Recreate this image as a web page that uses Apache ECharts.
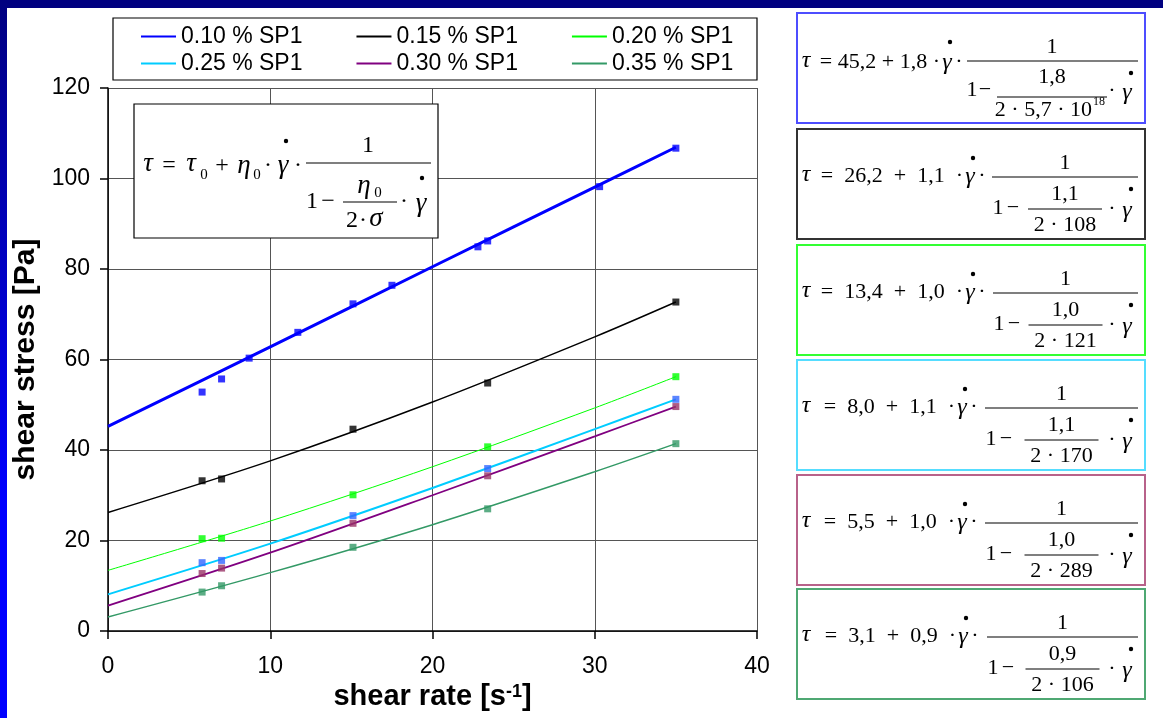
<!DOCTYPE html>
<html>
<head>
<meta charset="utf-8">
<title>shear stress vs shear rate</title>
<script src="https://cdn.jsdelivr.net/npm/echarts@6/dist/echarts.min.js"></script>
<style>
html, body { margin: 0; padding: 0; background: #fff; }
#chart { width: 1163px; height: 718px; }
</style>
</head>
<body>
<div id="chart"></div>
<script>
// legend names, one per concentration
var seriesNames = ['0.10 % SP1', '0.15 % SP1', '0.20 % SP1', '0.25 % SP1', '0.30 % SP1', '0.35 % SP1'];

// measured points
var rate010 = [5.8, 7.0, 8.7, 11.7, 15.1, 17.5, 22.8, 23.4, 30.3, 35.0];
var stress010 = [52.8, 55.7, 60.3, 66.0, 72.3, 76.4, 84.9, 86.2, 98.2, 106.7];
var rateOther = [5.8, 7.0, 15.1, 23.4, 35.0];
var stress015 = [33.2, 33.6, 44.6, 54.8, 72.7];
var stress020 = [20.4, 20.5, 30.1, 40.7, 56.2];
var stress025 = [15.1, 15.6, 25.5, 35.9, 51.2];
var stress030 = [12.7, 13.9, 23.8, 34.3, 49.6];
var stress035 = [8.6, 10.0, 18.5, 27.0, 41.4];

// fitted curves
var fitRate = [0, 10, 20, 30, 35];
var fit010 = [45.2, 62.8, 80.5, 98.1, 106.9];
var fit015 = [26.2, 37.6, 50.6, 65.0, 72.7];
var fit020 = [13.4, 24.3, 36.3, 49.3, 56.2];
var fit025 = [8.1, 19.3, 31.6, 44.6, 51.2];
var fit030 = [5.6, 17.3, 30.0, 43.0, 49.6];
var fit035 = [3.1, 12.9, 23.5, 35.2, 41.4];

// fit parameters printed in the boxes
var tau0Labels = ['45,2', '26,2', '13,4', '8,0', '5,5', '3,1'];
var eta0Labels = ['1,8', '1,1', '1,0', '1,1', '1,0', '0,9'];
var sigmaLabels = ['5,7 · 10', '108', '121', '170', '289', '106'];

var lineColors = ['#0000ff', '#000000', '#00ff00', '#00ccff', '#800080', '#339966'];
var pointColors = ['#0000ff', '#000000', '#00ff00', '#3366ff', '#993366', '#339966'];
var lineWidths = [3, 1.5, 1, 2, 1.8, 1.5];
var boxColors = ['#4d4dff', '#333333', '#33ff33', '#55ddff', '#b8628a', '#4fa873'];

var pointRates = [rate010, rateOther, rateOther, rateOther, rateOther, rateOther];
var pointStress = [stress010, stress015, stress020, stress025, stress030, stress035];
var fits = [fit010, fit015, fit020, fit025, fit030, fit035];

var SANS = '"Liberation Sans", Arial, sans-serif';
var SERIF = '"Liberation Serif", "Times New Roman", serif';

function zip(xs, ys) {
    return xs.map(function (x, i) { return [x, ys[i]]; });
}

// formula pieces
function txt(x, y, s, size, italic, align) {
    var a = align || 'center';
    return {
        type: 'text', z: 110, x: x, y: y, silent: true,
        style: {
            text: s, font: (italic ? 'italic ' : '') + size + 'px ' + SERIF, fill: '#000',
            align: a, verticalAlign: 'middle', textAlign: a, textVerticalAlign: 'middle'
        }
    };
}
function bar(x1, x2, y) {
    return { type: 'line', z: 110, silent: true, shape: { x1: x1, y1: y, x2: x2, y2: y }, style: { stroke: '#000', lineWidth: 1.2 } };
}
function dot(x, y) {
    return { type: 'circle', z: 110, silent: true, shape: { cx: x, cy: y, r: 2.2 }, style: { fill: '#000' } };
}

var g = [];
// slide frame
g.push({ type: 'rect', z: 100, silent: true, shape: { x: 0, y: 0, width: 1163, height: 8 }, style: { fill: '#000080' } });
g.push({
    type: 'rect', z: 100, silent: true, shape: { x: 0, y: 0, width: 7, height: 718 },
    style: { fill: { type: 'linear', x: 0, y: 0, x2: 0, y2: 1, colorStops: [{ offset: 0, color: '#000080' }, { offset: 0.7, color: '#0000ff' }, { offset: 1, color: '#0000ff' }] } }
});
// legend frame
g.push({ type: 'rect', z: 100, silent: true, shape: { x: 113, y: 18, width: 644, height: 62 }, style: { fill: 'transparent', stroke: '#000', lineWidth: 1.2 } });

// general model formula inside the plot
g.push({ type: 'rect', z: 100, silent: true, shape: { x: 134, y: 104, width: 304, height: 134 }, style: { fill: '#fff', stroke: '#000', lineWidth: 1.2 } });
g.push(txt(148, 164, 'τ', 27, true));
g.push(txt(169, 166, '=', 24));
g.push(txt(191, 164, 'τ', 27, true));
g.push(txt(204, 175, '0', 15));
g.push(txt(222, 166, '+', 24));
g.push(txt(244, 166, 'η', 27, true));
g.push(txt(257, 175, '0', 15));
g.push(txt(268, 166, '·', 24));
g.push(txt(283, 166, 'γ', 27, true));
g.push(dot(286, 141));
g.push(txt(298, 166, '·', 24));
g.push(bar(306, 431, 163));
g.push(txt(368, 146, '1', 24));
g.push(txt(312, 202, '1', 24));
g.push(txt(328, 202, '−', 24));
g.push(txt(364, 186, 'η', 27, true));
g.push(txt(378, 193, '0', 15));
g.push(bar(343, 397, 202));
g.push(txt(352, 221, '2', 24));
g.push(txt(363, 221, '·', 24));
g.push(txt(376, 219, 'σ', 27, true));
g.push(txt(404, 202, '·', 24));
g.push(txt(421, 204, 'γ', 27, true));
g.push(dot(422, 178));

// fitted formulas on the right
var boxLeft = 797, boxWidth = 348, boxHeight = 110;
var boxTops = [13, 129, 245, 360, 475, 589];
var gammaX = [150, 173, 173, 165, 165, 166];
var barStart = [170, 195, 196, 188, 188, 190];
boxTops.forEach(function (T, i) {
    var L = boxLeft;
    var tight = i === 0;
    var mainY = T + (tight ? 49 : 47);
    var denY = T + (tight ? 77 : 79);
    var bs = L + barStart[i], be = L + 341;
    var mid = tight ? L + 255 : (bs + be) / 2;
    var half = tight ? 55 : 37;
    var gx = L + gammaX[i];
    g.push({ type: 'rect', z: 100, silent: true, shape: { x: L, y: T, width: boxWidth, height: boxHeight }, style: { fill: '#fff', stroke: boxColors[i], lineWidth: 2 } });
    g.push(txt(L + 9, mainY - 1, 'τ', 24, true));
    var rest = tight
        ? '= ' + tau0Labels[i] + ' + ' + eta0Labels[i] + ' ·'
        : '=  ' + tau0Labels[i] + '  +  ' + eta0Labels[i] + '  ·';
    g.push(txt(gx - 7, mainY, rest, 22, false, 'right'));
    g.push(txt(gx, mainY + 1, 'γ', 24, true));
    g.push(dot(gx + 3, T + 29));
    g.push(txt(gx + 12, mainY, '·', 22));
    g.push(bar(bs, be, T + 48));
    g.push(txt(mid, T + 34, '1', 22));
    g.push(txt(bs + (tight ? 5 : 6), denY, '1', 22));
    g.push(txt(bs + (tight ? 18 : 21), denY, '−', 22));
    g.push(txt(mid, T + (tight ? 64 : 65), eta0Labels[i], 22));
    g.push(bar(mid - half, mid + half, T + (tight ? 84 : 80)));
    if (tight) {
        g.push(txt(L + 295, T + 97, '2 · ' + sigmaLabels[i], 22, false, 'right'));
        g.push(txt(L + 296, T + 89, '18', 12, false, 'left'));
    } else {
        g.push(txt(mid, T + 96, '2 · ' + sigmaLabels[i], 22));
    }
    g.push(txt(L + 315, denY + 1, '·', 22));
    g.push(txt(L + 330, denY + 3, 'γ', 24, true));
    g.push(dot(L + 334, T + 60));
});

var series = [];
seriesNames.forEach(function (name, i) {
    series.push({
        name: name,
        type: 'line',
        data: zip(fitRate, fits[i]),
        smooth: 0.3,
        symbol: 'none',
        color: lineColors[i],
        lineStyle: { color: lineColors[i], width: lineWidths[i] },
        z: 2,
        silent: true
    });
});
seriesNames.forEach(function (name, i) {
    series.push({
        name: name + ' data',
        type: 'scatter',
        data: zip(pointRates[i], pointStress[i]),
        symbol: 'rect',
        symbolSize: 7,
        itemStyle: { color: pointColors[i] },
        z: 3,
        silent: true
    });
});

// legend icons: line only, no marker
var legendBase = {
    left: 140,
    itemWidth: 35,
    itemHeight: 14,
    itemGap: 53,
    padding: 0,
    selectedMode: false,
    itemStyle: { opacity: 0 },
    textStyle: { fontSize: 23, fontFamily: SANS, color: '#000' }
};

var chart = echarts.init(document.getElementById('chart'));
chart.setOption({
    animation: false,
    backgroundColor: '#fff',
    grid: { left: 108, right: 406, top: 88, bottom: 87 },
    legend: [
        Object.assign({}, legendBase, { top: 25, data: seriesNames.slice(0, 3) }),
        Object.assign({}, legendBase, { top: 52, data: seriesNames.slice(3) })
    ],
    xAxis: {
        type: 'value',
        min: 0,
        max: 40,
        interval: 10,
        name: 'shear rate [s{sup|-1}]',
        nameLocation: 'middle',
        nameGap: 50,
        nameTextStyle: {
            fontSize: 29, fontWeight: 'bold', fontFamily: SANS, color: '#000',
            rich: { sup: { fontSize: 18, fontWeight: 'bold', fontFamily: SANS, color: '#000', verticalAlign: 'top' } }
        },
        axisLine: { show: true, onZero: false, lineStyle: { color: '#000', width: 1.5 } },
        axisTick: { show: true, length: 8, lineStyle: { color: '#000', width: 1.5 } },
        axisLabel: { fontSize: 23, fontFamily: SANS, color: '#000', margin: 24 },
        splitLine: { show: true, lineStyle: { color: '#555', width: 1 } }
    },
    yAxis: {
        type: 'value',
        min: 0,
        max: 120,
        interval: 20,
        name: 'shear stress [Pa]',
        nameLocation: 'middle',
        nameRotate: 90,
        nameGap: 66,
        nameTextStyle: { fontSize: 30, fontWeight: 'bold', fontFamily: SANS, color: '#000' },
        axisLine: { show: true, onZero: false, lineStyle: { color: '#000', width: 1.5 } },
        axisTick: { show: true, length: 8, lineStyle: { color: '#000', width: 1.5 } },
        axisLabel: { fontSize: 23, fontFamily: SANS, color: '#000', margin: 18 },
        splitLine: { show: true, lineStyle: { color: '#555', width: 1 } }
    },
    graphic: g,
    series: series
});
</script>
</body>
</html>
